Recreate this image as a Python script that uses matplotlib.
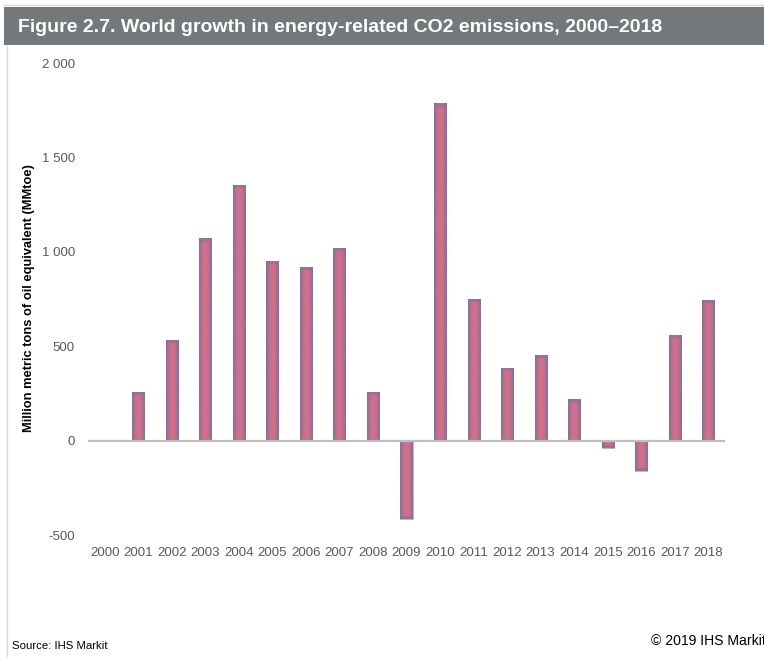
import numpy as np
import matplotlib.pyplot as plt
from matplotlib.colors import LinearSegmentedColormap
from matplotlib.ticker import FuncFormatter

plt.rcParams["font.family"] = ["Liberation Sans", "DejaVu Sans"]

# ── data ───────────────────────────────────────────────────────────
years = [str(y) for y in range(2000, 2019)]
growth = [0, 258, 534, 1072, 1356, 953, 920, 1020, 258, -415,
          1786, 750, 384, 456, 219, -40, -162, 559, 746]
y_ticks = [-500, 0, 500, 1000, 1500, 2000]

TITLE = "Figure 2.7. World growth in energy-related CO2 emissions, 2000\u20132018"
BAR_EDGE = "#82709b"
BAR_MID = "#d0708a"
LABEL_GRAY = "#595959"

fig = plt.figure(figsize=(7.64, 6.57), dpi=100)
fig.patch.set_facecolor("white")

# ── header band & frame ────────────────────────────────────────────
fig.add_artist(plt.Rectangle((0.005, 1 - 45 / 657), 1.0, 38 / 657,
                             transform=fig.transFigure, color="#75787b", lw=0))
fig.add_artist(plt.Line2D([0.005, 1.0], [1 - 5 / 657, 1 - 5 / 657],
                          transform=fig.transFigure, color="#d9d9d9", lw=1))
fig.add_artist(plt.Line2D([0.009, 0.009], [0, 1 - 45 / 657],
                          transform=fig.transFigure, color="#d9d9d9", lw=1))
fig.text(0.024, 1 - 27 / 657, TITLE, color="white", fontsize=14,
         fontweight="bold", va="center", ha="left")

ax = fig.add_axes([88 / 764, 1 - 535 / 657, (725 - 88) / 764, (535 - 63) / 657])
x = np.arange(len(years))
bars = ax.bar(x, growth, width=0.36, color=BAR_MID, edgecolor="#bcaed0",
              linewidth=0.6, zorder=2)

# side-to-side shading inside each bar
cmap = LinearSegmentedColormap.from_list("bar", [BAR_EDGE, BAR_MID, BAR_MID, BAR_EDGE])
grad = np.linspace(0, 1, 64).reshape(1, -1)
for b in bars:
    if b.get_height() == 0:
        continue
    x0, w = b.get_x(), b.get_width()
    y0, h = b.get_y(), b.get_height()
    im = ax.imshow(grad, cmap=cmap, aspect="auto", interpolation="bicubic",
                   extent=[x0, x0 + w, y0, y0 + h], zorder=2.5)
    im.set_clip_path(b)
    cap = min(abs(h), 18) * np.sign(h)
    top = y0 + h
    ax.fill_between([x0, x0 + w], top - cap, top, color=BAR_EDGE, alpha=0.55,
                    lw=0, zorder=2.6)

ax.axhline(0, color="#bfbfbf", lw=1.6, zorder=3)
ax.set_xlim(-0.5, len(years) - 0.5)
ax.set_ylim(-500, 2000)
ax.set_yticks(y_ticks)
ax.yaxis.set_major_formatter(FuncFormatter(lambda v, _: f"{int(v):,}".replace(",", " ")))
ax.set_xticks(x)
ax.set_xticklabels(years)
ax.tick_params(axis="both", length=0, colors=LABEL_GRAY, labelsize=9.5)
ax.tick_params(axis="y", pad=9.5)
ax.tick_params(axis="x", pad=9)
for s in ax.spines.values():
    s.set_visible(False)

fig.text(29 / 764, 1 - 298 / 657, "Million metric tons of oil equivalent (MMtoe)",
         rotation=90, fontsize=9.3, fontweight="bold", va="center", ha="center")

fig.text(12 / 764, 1 - 646 / 657, "Source: IHS Markit", fontsize=8.2,
         va="center", ha="left")
fig.text(1.003, 1 - 641 / 657, "\u00a9 2019 IHS Markit", fontsize=10.1,
         va="center", ha="right")

fig.savefig("out.png", dpi=100, facecolor="white")
